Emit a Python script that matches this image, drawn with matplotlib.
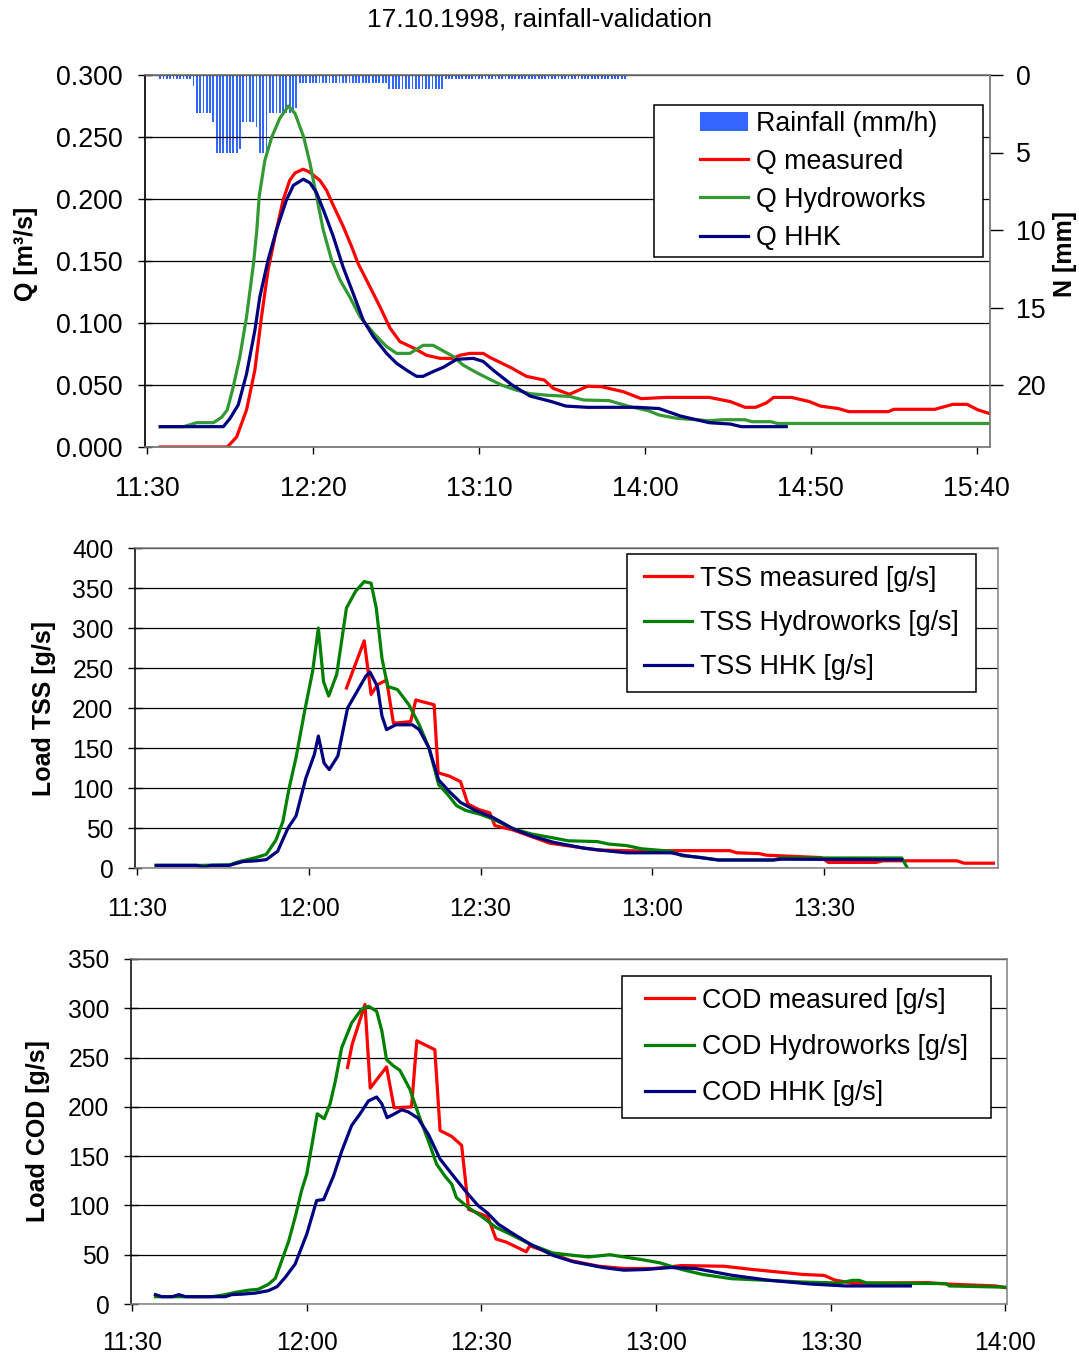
import matplotlib
matplotlib.use("Agg")
import matplotlib.pyplot as plt
from matplotlib.patches import Rectangle
from matplotlib.ticker import FormatStrFormatter

plt.rcParams["font.family"] = ["Liberation Sans", "DejaVu Sans"]

# all times are minutes after 11:30

# --- rainfall, one bar per minute starting 11:34 [mm]
rain_start = 4
rain = [
    0.26, 0.26, 0.26, 0.26, 0.26, 0.26, 0.26, 0.26, 0.26, 0.26,
    0.70, 2.47, 2.47, 2.47, 2.47, 2.47, 3.05, 5.05, 5.05, 5.05,
    5.05, 5.05, 5.05, 5.05, 4.75, 3.05, 3.05, 3.05, 3.05, 3.38,
    5.05, 5.05, 5.05, 2.47, 2.47, 2.47, 2.47, 2.47, 2.47, 2.47,
    2.47, 2.15, 0.50, 0.50, 0.50, 0.50, 0.50, 0.50, 0.50, 0.50,
    0.50, 0.50, 0.50, 0.50, 0.50, 0.50, 0.50, 0.50, 0.50, 0.50,
    0.50, 0.50, 0.50, 0.50, 0.50, 0.50, 0.50, 0.50, 0.50, 0.90,
    0.90, 0.90, 0.90, 0.90, 0.90, 0.90, 0.90, 0.90, 0.90, 0.90,
    0.90, 0.90, 0.90, 0.90, 0.90, 0.90, 0.26, 0.26, 0.26, 0.26,
    0.26, 0.26, 0.26, 0.26, 0.26, 0.26, 0.26, 0.26, 0.26, 0.26,
    0.26, 0.26, 0.26, 0.26, 0.26, 0.26, 0.26, 0.26, 0.26, 0.26,
    0.26, 0.26, 0.26, 0.26, 0.26, 0.26, 0.26, 0.26, 0.26, 0.26,
    0.26, 0.26, 0.26, 0.26, 0.26, 0.26, 0.26, 0.26, 0.26, 0.26,
    0.26, 0.26, 0.26, 0.26, 0.26, 0.26, 0.26, 0.26, 0.26, 0.26,
    0.26,
]

# --- discharge Q [m3/s]
q_meas_t = [4, 24.2, 27, 30, 32.5, 34.5, 36.5, 39, 41, 43, 44.6, 47, 48.8, 52.1,
            54.1, 56.1, 59.1, 61.6, 63.6, 67.2, 70.2, 73.2, 76.2, 80.2, 84.2,
            88.3, 92.2, 94.3, 97.3, 101.3, 103.5, 110, 114.3, 119.7, 122.4,
            127.3, 132.7, 137, 143.5, 148.9, 156.4, 169.4, 175.8, 180.2, 183.4,
            186.7, 188.8, 194.2, 199.6, 202.9, 208.3, 211.5, 223.4, 225, 237.4,
            242.8, 247.1, 250.3, 253.8]
q_meas = [0.0, 0.0, 0.008, 0.030, 0.062, 0.105, 0.143, 0.175, 0.199, 0.215, 0.221,
          0.224, 0.222, 0.215, 0.207, 0.195, 0.178, 0.162, 0.148, 0.129, 0.113,
          0.096, 0.085, 0.080, 0.074, 0.0715, 0.0715, 0.074, 0.0755, 0.0755,
          0.072, 0.0635, 0.057, 0.054, 0.0473, 0.0425, 0.049, 0.0486, 0.0446,
          0.039, 0.040, 0.040, 0.0366, 0.032, 0.032, 0.0357, 0.040, 0.040,
          0.0366, 0.033, 0.031, 0.0285, 0.0285, 0.0304, 0.0304, 0.0344, 0.0344,
          0.030, 0.027]

q_hw_t = [4, 11, 13, 15, 20, 22.5, 24.2, 26, 28, 30, 32.1, 33.1, 33.8, 35.5, 37.6,
          40, 42.6, 44.6, 47.2, 49.1, 51.1, 53.1, 55.6, 58.1, 61.1, 64.2, 68.2,
          72.2, 75.2, 79.2, 83.2, 86.2, 89.3, 92.3, 95.3, 99.3, 103.3, 106.8,
          111.1, 115.4, 120.8, 127.3, 131.6, 139.2, 145.6, 151, 154.3, 159.7,
          169.4, 173.7, 180.2, 182.3, 188, 189.9, 253.8]
q_hw = [0.0164, 0.0164, 0.018, 0.0196, 0.0196, 0.024, 0.030, 0.0486, 0.073, 0.105,
        0.148, 0.175, 0.202, 0.231, 0.250, 0.265, 0.275, 0.269, 0.250, 0.229,
        0.202, 0.175, 0.151, 0.135, 0.121, 0.105, 0.092, 0.081, 0.0755, 0.0755,
        0.082, 0.082, 0.0774, 0.073, 0.066, 0.060, 0.0546, 0.050, 0.046, 0.043,
        0.0417, 0.0408, 0.0379, 0.0374, 0.0325, 0.0293, 0.0258, 0.0231, 0.0212,
        0.022, 0.022, 0.0204, 0.0204, 0.019, 0.019]

q_hhk_t = [4, 23, 25, 27.5, 30, 32.5, 34, 36.5, 39, 42, 44.1, 47.1, 49.1, 51.1,
           53.6, 56.1, 59.1, 62.1, 65.2, 68.2, 72.2, 75.2, 78.2, 81.2, 83.2, 86.2,
           89.3, 93.3, 98.3, 101.3, 104.3, 110, 115.4, 121.9, 126.2, 132.7, 147.8,
           154.3, 160.7, 169.4, 175.8, 179.1, 192.6]
q_hhk = [0.0164, 0.0164, 0.023, 0.034, 0.059, 0.094, 0.121, 0.151, 0.175, 0.199,
         0.211, 0.216, 0.213, 0.205, 0.188, 0.170, 0.145, 0.124, 0.102, 0.089,
         0.0755, 0.0675, 0.062, 0.057, 0.057, 0.0608, 0.0643, 0.0707, 0.0715,
         0.069, 0.062, 0.050, 0.0411, 0.0366, 0.033, 0.032, 0.032, 0.031, 0.025,
         0.0196, 0.0185, 0.0164, 0.0164]

# --- TSS load [g/s]
tss_meas_t = [36.6, 39.7, 40.9, 42.0, 43.6, 44.8, 47.8, 48.7, 51.9, 52.6, 54.5,
              56.5, 57.8, 59.7, 61.6, 62.5, 65.7, 68.6, 72.1, 76, 80.4, 89.4,
              93.9, 103.5, 104.7, 108.6, 109.9, 119.5, 120.7, 129, 130.3, 143.1,
              144.4, 149.5]
tss_meas = [225, 284, 217, 229, 235, 181, 183, 210, 204, 119, 115, 108, 80, 73, 69,
            53, 47.5, 40, 31, 27, 22.5, 21, 21.7, 21.7, 19, 18, 16, 13, 7, 7, 9, 9,
            6, 6]

tss_hw_t = [3.4, 11.6, 16.2, 17.9, 20.8, 22.6, 24.3, 25.5, 26.6, 27.8, 29.3, 30.7,
            31.7, 32.6, 33.5, 34.9, 36.6, 38.2, 39.7, 40.9, 41.8, 42.8, 43.8, 45.5,
            47.5, 49.3, 51.0, 52.7, 54.2, 55.8, 57.4, 60, 62.2, 65.7, 68.9, 72.8,
            75.3, 80.4, 82.3, 85.5, 88.1, 93.2, 95.1, 98.3, 101.5, 111.1, 112.4,
            133.5, 134.5]
tss_hw = [3.3, 3.3, 4, 8, 13, 17, 35, 58, 100, 138, 196, 246, 300, 233, 215, 242,
          325, 346, 358, 356, 325, 262, 227, 223, 204, 179, 150, 104, 92.5, 78, 72,
          67, 61, 49, 42.5, 37.5, 34, 33, 30, 28, 24, 21, 15.4, 13.3, 10, 10, 12.5,
          12.5, 0]

tss_hhk_t = [3.4, 10.4, 11.8, 13, 16.2, 18.5, 20.8, 22.6, 24.6, 26.4, 27.8, 29.5,
             31.0, 31.7, 32.7, 33.6, 35.1, 36.8, 38.8, 40.0, 40.7, 42.0, 42.8, 43.6,
             45.2, 48.1, 49.3, 51.0, 52.7, 54.5, 56.5, 59.1, 62.2, 65.7, 68.9, 72.8,
             77.9, 81.7, 85.5, 93.2, 95.8, 101.5, 111.1, 112.4, 133.5]
tss_hhk = [3.3, 3.3, 1, 3.3, 3.3, 8, 9, 10.4, 21, 50, 65, 112, 142, 165, 131, 123,
           140, 200, 225, 240, 245, 227, 190, 173, 179, 179, 173, 150, 110, 96, 82,
           72, 63, 49, 40, 32, 25, 21.7, 19, 19, 15.4, 10, 10, 11, 10.4]

# --- COD load [g/s]
cod_meas_t = [37.0, 37.8, 40.0, 40.9, 43.7, 45.0, 48.0, 48.9, 52.0, 52.9, 54.9,
              56.6, 57.8, 61.1, 62.5, 64.3, 67.7, 68.3, 72.3, 75.3, 80.2, 84.5,
              89.5, 94.4, 101.7, 106.6, 115.2, 118.9, 120.7, 123.8, 136.7, 139.8,
              148.4, 150.5]
cod_meas = [240, 263.5, 304, 219, 240.5, 199, 200, 267, 258, 176, 170, 161, 96,
            88.5, 66, 62.7, 53, 59, 51, 44, 38.3, 36, 36, 39, 38.3, 35, 30, 29,
            24.3, 21, 21.7, 20.3, 18.3, 16]

cod_hw_t = [4, 13.7, 16.0, 17.7, 20.0, 21.7, 23.4, 24.6, 25.7, 26.9, 28.0, 29.1,
            30.0, 30.9, 31.8, 33.0, 34.0, 34.9, 36.0, 37.7, 39.4, 40.6, 42.0, 42.9,
            43.7, 44.9, 46.0, 47.7, 49.4, 51.1, 52.3, 53.7, 54.9, 55.7, 57.7, 60.0,
            62.5, 64.9, 68.6, 72.3, 75.9, 78.4, 82.1, 84.5, 87.6, 90.7, 94.4, 98,
            102.9, 109.1, 115.2, 121.4, 123.8, 124.9, 126.2, 139.8, 140.4, 150.5]
cod_hw = [7.4, 7.4, 9.5, 11.8, 14, 15, 20, 26, 44, 64, 88, 115, 132, 162, 193, 188,
          203, 226, 260, 285, 299, 302, 297, 277, 248, 241.5, 237, 218, 189, 162,
          142, 130, 121.6, 108, 98, 89, 77.7, 71, 60, 51.7, 49.3, 47.7, 50, 47.7,
          45, 41.7, 35, 30, 25.7, 24, 22.3, 21.3, 24, 24, 21.3, 20.7, 18.3, 17]

cod_hhk_t = [4.0, 5.1, 6.9, 8.0, 9.2, 16.0, 17.1, 18.9, 21.1, 23.4, 24.9, 26.3, 28.0,
             30.0, 31.7, 32.9, 34.6, 36.0, 37.7, 39.1, 40.6, 42.0, 42.9, 43.8, 45.1,
             46.3, 47.4, 49.1, 50.9, 52.9, 54.9, 57.2, 59.4, 61.1, 62.9, 65.1, 68.6,
             72.3, 75.9, 80.9, 84.5, 88.2, 92.5, 96.8, 102.9, 109.1, 116.5, 122.6,
             133.7]
cod_hhk = [9.5, 7.4, 7.4, 9.5, 7.4, 7.4, 9.5, 10, 11, 13.5, 17.6, 27, 40.5, 71, 105,
           106, 130, 155, 181, 192.5, 206, 210, 203, 189, 193, 197, 195, 188.5, 172,
           147, 132, 115, 100, 92, 81, 72.6, 60, 49.3, 42.7, 37, 34.3, 35, 37, 36,
           29.3, 24.3, 20.3, 18.3, 18.3]

q_ticks = [0, 50, 100, 150, 200, 250]
q_ticklabels = ["11:30", "12:20", "13:10", "14:00", "14:50", "15:40"]
tss_ticks = [0, 30, 60, 90, 120]
tss_ticklabels = ["11:30", "12:00", "12:30", "13:00", "13:30"]
cod_ticks = [0, 30, 60, 90, 120, 150]
cod_ticklabels = ["11:30", "12:00", "12:30", "13:00", "13:30", "14:00"]

RED = "#ff0000"
NAVY = "#000080"
LW = 2.3


def style_axes(ax, tick_size, xpad, ypad):
    ax.set_axisbelow(True)
    ax.grid(True, axis="y", color="black", linewidth=0.9)
    for name, sp in ax.spines.items():
        sp.set_color("#808080" if name != "left" else "black")
        sp.set_linewidth(1.1)
    ax.tick_params(axis="x", direction="out", length=5, width=1, pad=xpad,
                   labelsize=tick_size)
    ax.tick_params(axis="y", direction="inout", length=10, width=1, pad=ypad,
                   labelsize=tick_size)


def legend_box(ax, x0, y0, x1, y1, handles, labels, spacing):
    ax.add_patch(Rectangle((x0, y0), x1 - x0, y1 - y0, transform=ax.transAxes,
                           facecolor="white", edgecolor="black", linewidth=1.1,
                           zorder=4))
    ax.legend(handles, labels, loc="center",
              bbox_to_anchor=((x0 + x1) / 2, (y0 + y1) / 2),
              frameon=False, fontsize=19.3, handlelength=1.8, handletextpad=0.3,
              labelspacing=spacing, borderpad=0.2)


fig = plt.figure(figsize=(10.79, 13.55), dpi=100)
fig.text(0.5, 1 - 20 / 1355, "17.10.1998, rainfall-validation", ha="center",
         va="center", fontsize=19)

# ---------------- panel 1: discharge + rainfall
ax1 = fig.add_axes([145 / 1079, 1 - 447 / 1355, 845 / 1079, 372 / 1355])
ax2 = ax1.twinx()
ax1.set_zorder(ax2.get_zorder() + 1)
ax1.patch.set_visible(False)

rain_t = [rain_start + i for i in range(len(rain))]
bars = ax2.bar(rain_t, rain, width=0.55, color="#3366ff", linewidth=0)
ax2.set_ylim(24, 0)
ax2.set_yticks([0, 5, 10, 15, 20])
ax2.tick_params(axis="y", direction="out", length=9, width=1, pad=10, labelsize=19.3)
ax2.set_ylabel("N [mm]", fontsize=18, fontweight="bold")
ax2.yaxis.set_label_coords(1.075, 0.52)
for sp in ax2.spines.values():
    sp.set_color("#808080")
    sp.set_linewidth(1.1)

l1, = ax1.plot(q_meas_t, q_meas, color=RED, lw=LW)
l2, = ax1.plot(q_hw_t, q_hw, color="#339933", lw=LW)
l3, = ax1.plot(q_hhk_t, q_hhk, color=NAVY, lw=LW)
ax1.set_xlim(-0.6, 254)
ax1.set_ylim(0, 0.3)
ax1.set_yticks([0, 0.05, 0.1, 0.15, 0.2, 0.25, 0.3])
ax1.yaxis.set_major_formatter(FormatStrFormatter("%.3f"))
ax1.set_xticks(q_ticks)
ax1.set_xticklabels(q_ticklabels)
style_axes(ax1, 19.3, 16, 11)
ax1.set_ylabel("Q [m³/s]", fontsize=18, fontweight="bold")
ax1.yaxis.set_label_coords(-0.127, 0.52)
legend_box(ax1, 0.602, 0.511, 0.992, 0.92, [bars, l1, l2, l3],
           ["Rainfall (mm/h)", "Q measured", "Q Hydroworks", "Q HHK"], 0.45)

# ---------------- panel 2: TSS load
ax3 = fig.add_axes([135 / 1079, 1 - 868 / 1355, 863 / 1079, 320 / 1355])
t1, = ax3.plot(tss_meas_t, tss_meas, color=RED, lw=LW)
t2, = ax3.plot(tss_hw_t, tss_hw, color="#008000", lw=LW)
t3, = ax3.plot(tss_hhk_t, tss_hhk, color=NAVY, lw=LW)
ax3.set_xlim(-0.3, 150.3)
ax3.set_ylim(0, 400)
ax3.set_yticks(range(0, 401, 50))
ax3.set_xticks(tss_ticks)
ax3.set_xticklabels(tss_ticklabels)
style_axes(ax3, 17.7, 16, 10.5)
ax3.set_ylabel("Load TSS [g/s]", fontsize=18, fontweight="bold")
ax3.yaxis.set_label_coords(-0.092, 0.5)
legend_box(ax3, 0.570, 0.55, 0.975, 0.981, [t1, t2, t3],
           ["TSS measured [g/s]", "TSS Hydroworks [g/s]", "TSS HHK [g/s]"], 0.68)

# ---------------- panel 3: COD load
ax4 = fig.add_axes([131 / 1079, 1 - 1304 / 1355, 876 / 1079, 345 / 1355])
c1, = ax4.plot(cod_meas_t, cod_meas, color=RED, lw=LW)
c2, = ax4.plot(cod_hw_t, cod_hw, color="#008000", lw=LW)
c3, = ax4.plot(cod_hhk_t, cod_hhk, color=NAVY, lw=LW)
ax4.set_xlim(-0.2, 150.3)
ax4.set_ylim(0, 350)
ax4.set_yticks(range(0, 351, 50))
ax4.set_xticks(cod_ticks)
ax4.set_xticklabels(cod_ticklabels)
style_axes(ax4, 17.7, 14.5, 10.5)
ax4.set_ylabel("Load COD [g/s]", fontsize=18, fontweight="bold")
ax4.yaxis.set_label_coords(-0.092, 0.5)
legend_box(ax4, 0.5605, 0.539, 0.9817, 0.9507, [c1, c2, c3],
           ["COD measured [g/s]", "COD Hydroworks [g/s]", "COD HHK [g/s]"], 0.76)

fig.savefig("out.png", dpi=100)
